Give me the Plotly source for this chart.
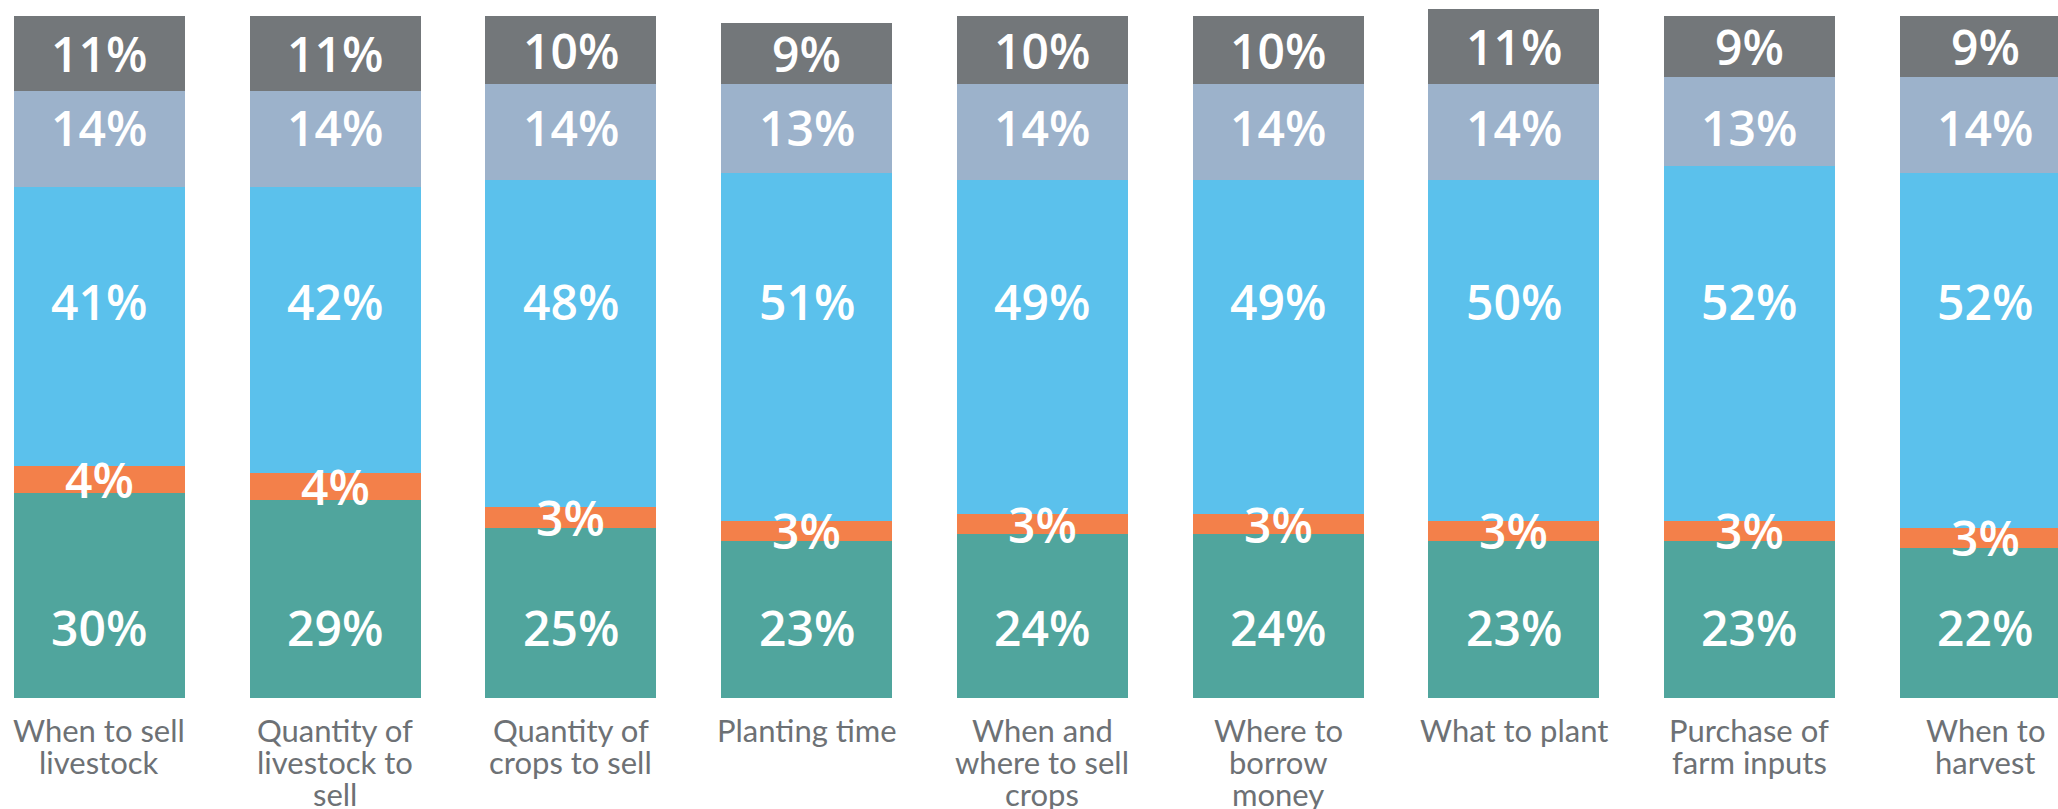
import plotly.graph_objects as go

# Decision categories (line breaks as they wrap under each bar)
categories = [
    ["When to sell", "livestock"],
    ["Quantity of", "livestock to", "sell"],
    ["Quantity of", "crops to sell"],
    ["Planting time"],
    ["When and", "where to sell", "crops"],
    ["Where to", "borrow", "money"],
    ["What to plant"],
    ["Purchase of", "farm inputs"],
    ["When to", "harvest"],
]

# Stacked shares, bottom to top (percent)
teal_vals = [30, 29, 25, 23, 24, 24, 23, 23, 22]
orange_vals = [4, 4, 3, 3, 3, 3, 3, 3, 3]
blue_vals = [41, 42, 48, 51, 49, 49, 50, 52, 52]
lightblue_vals = [14, 14, 14, 13, 14, 14, 14, 13, 14]
gray_vals = [11, 11, 10, 9, 10, 10, 11, 9, 9]

series = [
    (teal_vals, "#50a59d"),
    (orange_vals, "#f3804a"),
    (blue_vals, "#5bc1ec"),
    (lightblue_vals, "#9cb2cb"),
    (gray_vals, "#73777a"),
]

x = list(range(len(categories)))
BAR_W = 0.7255
LABEL_FONT = dict(family="'Open Sans', Lato, sans-serif", size=48, color="white", weight=600)
CAT_FONT = dict(family="Lato, 'Open Sans', sans-serif", size=31, color="#6d7175")

fig = go.Figure()
for vals, color in series:
    fig.add_trace(go.Bar(
        x=x, y=vals, width=BAR_W, marker=dict(color=color, line=dict(width=0)),
        hoverinfo="skip", showlegend=False,
    ))

annotations = []

# Value labels: teal / blue / light-blue sit on fixed rows, orange and gray centred in segment
row_y = {0: 10.3, 2: 58.2, 3: 83.6}
for i in x:
    base = 0
    for s, (vals, _) in enumerate(series):
        v = vals[i]
        y = row_y.get(s, base + v / 2)
        annotations.append(dict(
            x=i, y=y, xref="x", yref="y", text=f"{v}%", showarrow=False,
            font=LABEL_FONT, xanchor="center", yanchor="middle",
        ))
        base += v

# Category labels under each bar, one annotation per line
for i, lines in enumerate(categories):
    for k, line in enumerate(lines):
        annotations.append(dict(
            x=i, y=0, xref="x", yref="paper", text=line, showarrow=False,
            font=CAT_FONT, xanchor="center", yanchor="middle",
            yshift=-(32 + 32 * k),
        ))

fig.update_layout(
    width=2058, height=809,
    margin=dict(l=0, r=0, t=0, b=111),
    barmode="stack",
    bargap=0,
    plot_bgcolor="white", paper_bgcolor="white",
    xaxis=dict(range=[-0.422, 8.309], visible=False, fixedrange=True),
    yaxis=dict(range=[0, 102.35], visible=False, fixedrange=True),
    annotations=annotations,
)

fig.write_html("out.html")
